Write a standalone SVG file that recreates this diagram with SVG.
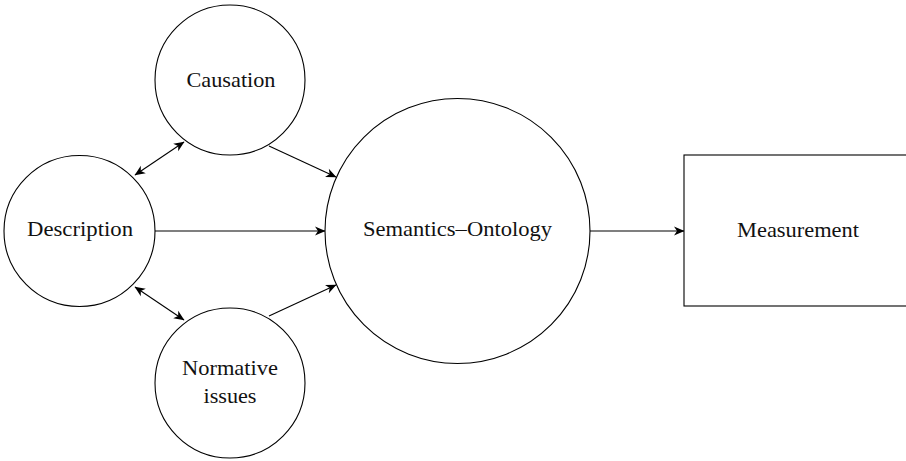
<svg xmlns="http://www.w3.org/2000/svg" width="906" height="461" viewBox="0 0 906 461">
<style>
.n{fill:#fff;stroke:#000;stroke-width:1.1}
.t{font-family:"Liberation Serif","Times New Roman",serif;font-size:22px;fill:#111;text-anchor:middle}
.c{stroke:#000;stroke-width:1.1;fill:none}
</style>
<defs>
<marker id="ah" markerUnits="userSpaceOnUse" markerWidth="14" markerHeight="12" viewBox="-12 -6 14 12" refX="0" refY="0" orient="auto-start-reverse">
<path d="M0.5,0 L-10,-4.5 L-7,0 L-10,4.5 Z" fill="#000"/>
</marker>
</defs>
<rect width="906" height="461" fill="#fff"/>
<g id="connectors">
<line class="c" x1="155" y1="231" x2="325" y2="231" marker-end="url(#ah)"/>
<line class="c" x1="590" y1="231" x2="684" y2="231" marker-end="url(#ah)"/>
<line class="c" x1="269" y1="146" x2="336" y2="177" marker-end="url(#ah)"/>
<line class="c" x1="269" y1="316" x2="336" y2="285" marker-end="url(#ah)"/>
<line class="c" x1="135" y1="175" x2="184" y2="142" marker-start="url(#ah)" marker-end="url(#ah)"/>
<line class="c" x1="135" y1="287" x2="184" y2="320" marker-start="url(#ah)" marker-end="url(#ah)"/>
</g>
<g id="causation">
<circle class="n" cx="230" cy="80" r="75"/>
<text class="t" x="231" y="87" textLength="89" lengthAdjust="spacingAndGlyphs">Causation</text>
</g>
<g id="description">
<circle class="n" cx="79.5" cy="231" r="75.5"/>
<text class="t" x="80" y="236" textLength="106" lengthAdjust="spacingAndGlyphs">Description</text>
</g>
<g id="normative">
<circle class="n" cx="230" cy="383" r="75"/>
<text class="t" x="230" y="375" textLength="96" lengthAdjust="spacingAndGlyphs">Normative</text>
<text class="t" x="230" y="403" textLength="53" lengthAdjust="spacingAndGlyphs">issues</text>
</g>
<g id="semantics">
<circle class="n" cx="457.5" cy="231" r="132.5"/>
<text class="t" x="457.5" y="236" textLength="189" lengthAdjust="spacingAndGlyphs">Semantics–Ontology</text>
</g>
<g id="measurement">
<rect class="n" x="684" y="155" width="228" height="151"/>
<text class="t" x="798" y="237" textLength="122" lengthAdjust="spacingAndGlyphs">Measurement</text>
</g>
</svg>
